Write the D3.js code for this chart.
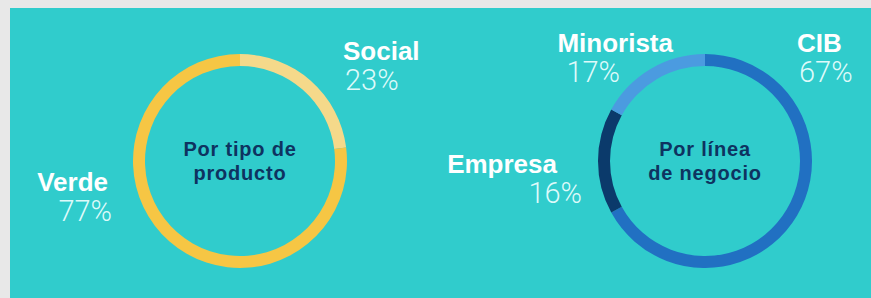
<!DOCTYPE html>
<html>
<head>
<meta charset="utf-8">
<script src="https://cdn.jsdelivr.net/npm/d3@7"></script>
<style>
  body { margin: 0; background: #e8e8e8; }
  svg { display: block; }
</style>
</head>
<body>
<div id="chart"></div>
<script>
// data
var productLabels = ["Social", "Verde"];
var productValues = [23, 77];
var productColors = ["#f5d98a", "#f6c644"];

var businessLabels = ["CIB", "Empresa", "Minorista"];
var businessValues = [67, 16, 17];
var businessColors = ["#2170c2", "#0b3a6b", "#4b9be0"];

var W = 871, H = 298;
var svg = d3.select("#chart").append("svg").attr("width", W).attr("height", H);

svg.append("rect").attr("x", 10).attr("y", 8).attr("width", W - 10).attr("height", H - 8).attr("fill", "#30cccc");

var pie = d3.pie().sort(null).value(function(d){ return d; });
var arc = d3.arc().innerRadius(95).outerRadius(107);

function donut(cx, cy, values, colors, title, labelPos){
    var g = svg.append("g").attr("transform", "translate(" + cx + "," + cy + ")");
    g.selectAll("path").data(pie(values)).enter().append("path")
        .attr("d", arc)
        .attr("fill", function(d, i){ return colors[i]; });
    g.selectAll("text.title").data(title).enter().append("text")
        .attr("class", "title")
        .attr("text-anchor", "middle")
        .attr("y", function(d, i){ return -5 + i * 24; })
        .attr("font-family", "'Liberation Sans', Arial, sans-serif")
        .attr("font-weight", "bold")
        .attr("font-size", 20)
        .attr("letter-spacing", 0.8)
        .attr("fill", "#0e3360")
        .text(function(d){ return d; });

    labelPos.forEach(function(p){
        svg.append("text")
            .attr("x", p.x).attr("y", p.y)
            .attr("text-anchor", p.anchor)
            .attr("font-family", "'Liberation Sans', Arial, sans-serif")
            .attr("font-weight", "bold")
            .attr("font-size", 26)
            .attr("fill", "#ffffff")
            .text(p.name);
        svg.append("text")
            .attr("x", p.px).attr("y", p.y + 30)
            .attr("text-anchor", p.anchor)
            .attr("font-family", "Roboto, 'Open Sans', sans-serif")
            .attr("font-weight", 300)
            .attr("font-size", 29)
            .attr("fill", "#defafa")
            .text(p.value + "%");
    });
}

donut(240, 161, productValues, productColors, ["Por tipo de", "producto"], [
    {name: productLabels[0], value: productValues[0], x: 343, px: 345, y: 60, anchor: "start"},
    {name: productLabels[1], value: productValues[1], x: 108, px: 112, y: 191, anchor: "end"}
]);

donut(705, 161, businessValues, businessColors, ["Por línea", "de negocio"], [
    {name: businessLabels[0], value: businessValues[0], x: 797, px: 799, y: 52, anchor: "start"},
    {name: businessLabels[1], value: businessValues[1], x: 557, px: 582, y: 173, anchor: "end"},
    {name: businessLabels[2], value: businessValues[2], x: 673, px: 620, y: 52, anchor: "end"}
]);
</script>
</body>
</html>
